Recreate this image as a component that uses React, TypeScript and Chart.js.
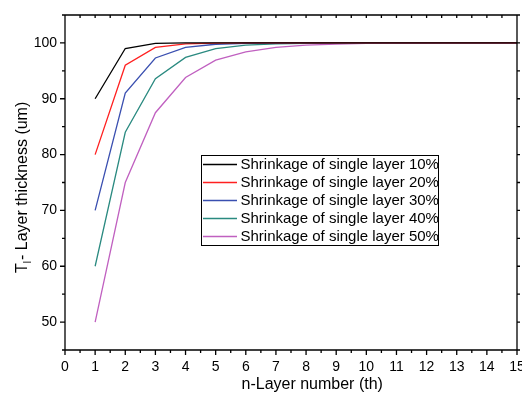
import React, { useEffect, useRef } from "react";
import { Chart, registerables } from "chart.js";

Chart.register(...registerables);

const layers = [1, 2, 3, 4, 5, 6, 7, 8, 9, 10, 11, 12, 13, 14, 15];
const s10 = [90, 99, 99.9, 99.99, 100, 100, 100, 100, 100, 100, 100, 100, 100, 100, 100];
const s20 = [80, 96, 99.2, 99.84, 99.97, 99.99, 100, 100, 100, 100, 100, 100, 100, 100, 100];
const s30 = [70, 91, 97.3, 99.2, 99.76, 99.93, 99.98, 99.99, 100, 100, 100, 100, 100, 100, 100];
const s40 = [60, 84, 93.6, 97.4, 98.98, 99.59, 99.84, 99.93, 99.97, 99.99, 100, 100, 100, 100, 100];
const s50 = [50, 75, 87.5, 93.8, 96.9, 98.4, 99.2, 99.6, 99.8, 99.9, 99.95, 99.98, 99.99, 99.99, 100];
const seriesNames = [
  "Shrinkage of single layer 10%",
  "Shrinkage of single layer 20%",
  "Shrinkage of single layer 30%",
  "Shrinkage of single layer 40%",
  "Shrinkage of single layer 50%",
];
const seriesColors = ["#000000", "#ff2020", "#3a4fb0", "#2a8a80", "#c060c0"];
const xTicks = [0, 1, 2, 3, 4, 5, 6, 7, 8, 9, 10, 11, 12, 13, 14, 15];
const yTicks = [50, 60, 70, 80, 90, 100];
const xTitle = "n-Layer number (th)";
const yTitleMain = "T";
const yTitleSub = "l";
const yTitleRest = "- Layer thickness (um)";

const FONT = "'Liberation Sans', Arial, Helvetica, sans-serif";

const framePlugin = {
  id: "frame",
  afterDraw(chart: any) {
    const ctx = chart.ctx;
    const { left, right, top, bottom } = chart.chartArea;
    const xs = chart.scales.x;
    const ys = chart.scales.y;
    ctx.save();
    ctx.strokeStyle = "#000";
    ctx.lineWidth = 1.3;
    ctx.beginPath();
    ctx.moveTo(left, top);
    ctx.lineTo(right, top);
    ctx.moveTo(right, top);
    ctx.lineTo(right, bottom);
    ctx.moveTo(left, top);
    ctx.lineTo(left, bottom);
    ctx.moveTo(left, bottom);
    ctx.lineTo(right, bottom);
    // x ticks
    for (let v = 0; v <= 15.001; v += 0.5) {
      const px = xs.getPixelForValue(v);
      const major = Math.abs(v - Math.round(v)) < 1e-6;
      ctx.moveTo(px, bottom);
      ctx.lineTo(px, bottom + (major ? 5 : 3));
      ctx.moveTo(px, top);
      ctx.lineTo(px, top + 3);
    }
    // y ticks
    for (let v = 45; v <= 105.001; v += 5) {
      const py = ys.getPixelForValue(v);
      const major = v % 10 === 0;
      ctx.moveTo(left, py);
      ctx.lineTo(left - (major ? 5 : 3), py);
      ctx.moveTo(right, py);
      ctx.lineTo(right + 3, py);
    }
    ctx.stroke();

    // legend
    ctx.lineWidth = 1;
    ctx.strokeRect(201.5, 155.5, 237, 90);
    ctx.font = `15px ${FONT}`;
    ctx.textBaseline = "middle";
    ctx.textAlign = "left";
    ctx.fillStyle = "#000";
    for (let i = 0; i < seriesNames.length; i++) {
      const y = 164.5 + i * 18;
      ctx.strokeStyle = seriesColors[i];
      ctx.lineWidth = 1.5;
      ctx.beginPath();
      ctx.moveTo(203, y);
      ctx.lineTo(237, y);
      ctx.stroke();
      ctx.fillText(seriesNames[i], 240.5, y + 0.5);
    }

    // x title
    ctx.font = `16px ${FONT}`;
    ctx.textBaseline = "alphabetic";
    ctx.fillText(xTitle, 241.5, 389);

    // y title
    ctx.translate(27, 273);
    ctx.rotate(-Math.PI / 2);
    ctx.font = `16px ${FONT}`;
    ctx.fillText(yTitleMain, 0, 0);
    let w = ctx.measureText(yTitleMain).width;
    ctx.font = `10px ${FONT}`;
    ctx.fillText(yTitleSub, w, 4);
    w += ctx.measureText(yTitleSub).width + 1;
    ctx.font = `16px ${FONT}`;
    ctx.fillText(yTitleRest, w, 0);
    ctx.restore();
  },
};

export default function App() {
  const ref = useRef<HTMLCanvasElement | null>(null);
  useEffect(() => {
    if (!ref.current) return;
    const all = [s10, s20, s30, s40, s50];
    const chart = new Chart(ref.current, {
      type: "line",
      data: {
        datasets: all.map((s, i) => ({
          label: seriesNames[i],
          data: layers.map((x, j) => ({ x, y: s[j] })),
          borderColor: seriesColors[i],
          backgroundColor: seriesColors[i],
          borderWidth: 1.3,
          pointRadius: 0,
          tension: 0,
          fill: false,
        })),
      },
      options: {
        responsive: false,
        animation: false,
        events: [],
        layout: { padding: { top: 15, right: 5, left: 0, bottom: 0 } },
        plugins: { legend: { display: false }, tooltip: { enabled: false } },
        scales: {
          x: {
            type: "linear",
            min: 0,
            max: 15,
            grid: { display: false, drawTicks: false },
            border: { display: false },
            afterBuildTicks: (s: any) => {
              s.ticks = xTicks.map((v) => ({ value: v }));
            },
            afterFit: (s: any) => {
              s.height = 43;
              s.paddingLeft = 0;
              s.paddingRight = 0;
            },
            ticks: {
              autoSkip: false,
              maxRotation: 0,
              padding: 9,
              color: "#000",
              font: { family: FONT, size: 14 },
            },
          },
          y: {
            type: "linear",
            min: 45,
            max: 105,
            grid: { display: false, drawTicks: false },
            border: { display: false },
            afterBuildTicks: (s: any) => {
              s.ticks = yTicks.map((v) => ({ value: v }));
            },
            afterFit: (s: any) => {
              s.width = 65;
              s.paddingTop = 0;
              s.paddingBottom = 0;
            },
            ticks: {
              padding: 8,
              color: "#000",
              font: { family: FONT, size: 14 },
            },
          },
        },
      },
      plugins: [framePlugin],
    } as any);
    return () => chart.destroy();
  }, []);
  return (
    <div style={{ position: "absolute", left: 0, top: 0, width: 522, height: 393, background: "#fff" }}>
      <canvas ref={ref} width={522} height={393} style={{ display: "block" }} />
    </div>
  );
}
